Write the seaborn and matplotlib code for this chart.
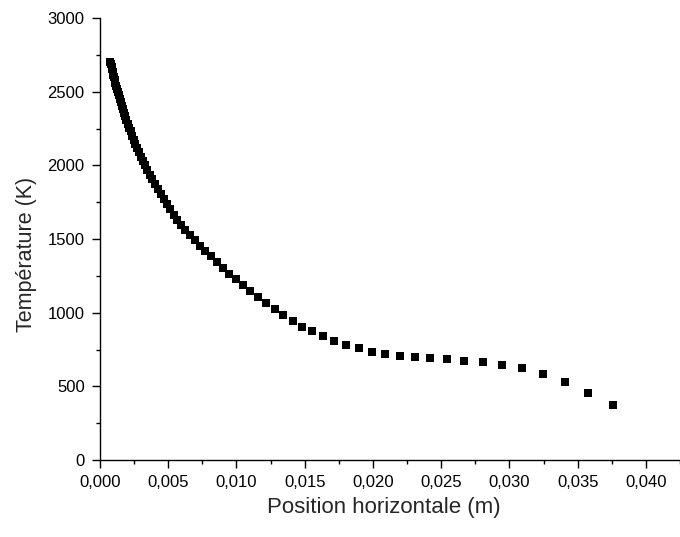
import matplotlib
matplotlib.use("Agg")
import matplotlib.pyplot as plt
from matplotlib.ticker import MultipleLocator, FuncFormatter
import numpy as np
import pandas as pd
import seaborn as sns

# Horizontal position (m) of each computed point
position_m = [
    0.000767, 0.000805, 0.000845, 0.000887, 0.000932, 0.000978, 0.001027,
    0.001079, 0.001133, 0.001189, 0.001249, 0.001311, 0.001377, 0.001446,
    0.001518, 0.001594, 0.001674, 0.001757, 0.001845, 0.001937, 0.002034,
    0.002136, 0.002243, 0.002355, 0.002473, 0.002596, 0.002726, 0.002862,
    0.003005, 0.003156, 0.003313, 0.003479, 0.003653, 0.003836, 0.004027,
    0.004229, 0.004440, 0.004662, 0.004895, 0.005140, 0.005397, 0.005667,
    0.005950, 0.00626, 0.00661, 0.00698, 0.00734, 0.00773, 0.00813,
    0.00857, 0.00901, 0.00947, 0.00996, 0.01045, 0.01099, 0.01155,
    0.01217, 0.01280, 0.01344, 0.01412, 0.01483, 0.01557, 0.01635,
    0.01716, 0.01804, 0.01897, 0.01990, 0.02087, 0.02195, 0.02305,
    0.02421, 0.02543, 0.02670, 0.02805, 0.02944, 0.03091, 0.03245,
    0.03409, 0.03578, 0.03757,
]

# Temperature (K) at each position
temperature_k = [
    2703, 2687, 2670, 2652, 2634, 2616, 2597,
    2578, 2558, 2538, 2517, 2496, 2474, 2452,
    2429, 2406, 2382, 2358, 2333, 2308, 2282,
    2256, 2230, 2202, 2175, 2147, 2118, 2089,
    2059, 2029, 1999, 1968, 1936, 1904, 1872,
    1839, 1805, 1771, 1737, 1702, 1666, 1631,
    1595, 1561, 1527, 1493, 1455, 1418, 1385,
    1344, 1305, 1265, 1226, 1186, 1145, 1104,
    1063, 1023, 982, 943, 905, 873, 842,
    810, 782, 758, 735, 719, 706, 697,
    689, 683, 675, 665, 647, 622, 584,
    529, 457, 371,
]

x_label = "Position horizontale (m)"
y_label = "Température (K)"

df = pd.DataFrame({"x": position_m, "T": temperature_k})

sns.set_style("ticks")
plt.rcParams["font.family"] = ["Liberation Sans", "DejaVu Sans"]

fig = plt.figure(figsize=(6.8, 5.37), dpi=100)
ax = fig.add_axes([100 / 680, 77 / 537, 580 / 680, 442 / 537])

sns.scatterplot(data=df, x="x", y="T", ax=ax, marker="s", s=40,
                color="black", linewidth=0, legend=False, clip_on=False)

ax.set_xlim(0, 0.0425)
ax.set_ylim(0, 3000)

ax.xaxis.set_major_locator(MultipleLocator(0.005))
ax.xaxis.set_minor_locator(MultipleLocator(0.0025))
ax.yaxis.set_major_locator(MultipleLocator(500))
ax.yaxis.set_minor_locator(MultipleLocator(250))
ax.xaxis.set_major_formatter(FuncFormatter(lambda v, p: f"{v:.3f}".replace(".", ",")))
ax.yaxis.set_major_formatter(FuncFormatter(lambda v, p: f"{v:.0f}"))

for side in ("top", "right"):
    ax.spines[side].set_visible(False)
for side in ("left", "bottom"):
    ax.spines[side].set_linewidth(1.0)
    ax.spines[side].set_color("black")

ax.tick_params(which="major", direction="out", length=6, width=1.0,
               labelsize=12, pad=5, colors="black")
ax.tick_params(which="minor", direction="out", length=3.2, width=1.0,
               colors="black")

ax.set_xlabel(x_label, fontsize=16)
ax.set_ylabel(y_label, fontsize=15.5)
ax.xaxis.set_label_coords(0.49, -0.083)
ax.yaxis.set_label_coords(-0.108, 0.466)

ax.grid(False)
fig.savefig("out.png", dpi=100, facecolor="white")
